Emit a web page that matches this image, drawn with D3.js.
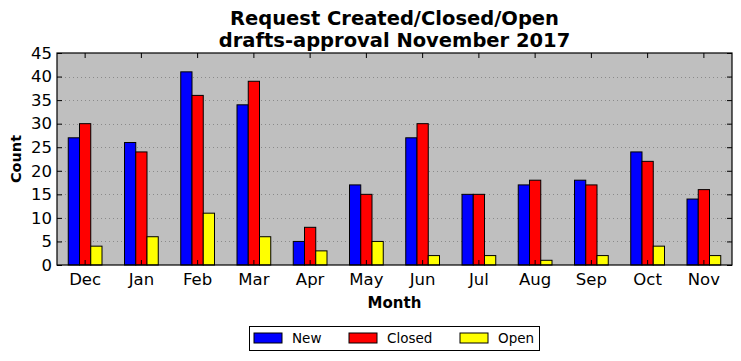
<!DOCTYPE html>
<html><head><meta charset="utf-8">
<script src="https://cdn.jsdelivr.net/npm/d3@7"></script>
<style>body{margin:0;background:#fff;} text{font-family:"DejaVu Sans",sans-serif;}</style>
</head><body><svg id="c" width="741" height="361"></svg>
<script>
const months = ["Dec","Jan","Feb","Mar","Apr","May","Jun","Jul","Aug","Sep","Oct","Nov"];
const newVals = [27,26,41,34,5,17,27,15,17,18,24,14];
const closedVals = [30,24,36,39,8,15,30,15,18,17,22,16];
const openVals = [4,6,11,6,3,5,2,2,1,2,4,2];
const seriesNames = ["New","Closed","Open"];
const seriesColors = ["#0000ff","#ff0000","#ffff00"];
const yTicks = [0,5,10,15,20,25,30,35,40,45];

const series = [newVals, closedVals, openVals];
const svg = d3.select("#c");
const L=57, R=732, T=53, B=265;
const x = d3.scaleBand().domain(months).range([L,R]).paddingInner(0).paddingOuter(0);
const y = d3.scaleLinear().domain([0,45]).range([B,T]);
const bw = x.bandwidth()*0.2;

svg.append("rect").attr("x",L).attr("y",T).attr("width",R-L).attr("height",B-T).attr("fill","#bfbfbf");
// grid
svg.append("g").selectAll("line").data(yTicks.slice(1,-1)).join("line")
  .attr("x1",L).attr("x2",R).attr("y1",d=>Math.round(y(d))+0.5).attr("y2",d=>Math.round(y(d))+0.5)
  .attr("stroke","#8a8a8a").attr("stroke-width",1).attr("stroke-dasharray","1,3");
// bars
series.forEach((vals,si)=>{
  svg.append("g").selectAll("rect").data(vals).join("rect")
    .attr("x",(d,i)=>x(months[i])+x.bandwidth()/2+(si-1.5)*bw)
    .attr("y",d=>y(d)).attr("width",bw).attr("height",d=>B-y(d))
    .attr("fill",seriesColors[si]).attr("stroke","#000").attr("stroke-width",1);
});
// frame
svg.append("rect").attr("x",L).attr("y",T).attr("width",R-L).attr("height",B-T).attr("fill","none").attr("stroke","#000").attr("stroke-width",1.2);
// axes
const xAx = svg.append("g").attr("transform",`translate(0,${B})`).call(d3.axisBottom(x).tickSize(-5).tickPadding(8));
const xTop = svg.append("g").attr("transform",`translate(0,${T})`).call(d3.axisTop(x).tickSize(-5).tickFormat(""));
const yAx = svg.append("g").attr("transform",`translate(${L},0)`).call(d3.axisLeft(y).tickValues(yTicks).tickSize(-5).tickPadding(5));
const yR = svg.append("g").attr("transform",`translate(${R},0)`).call(d3.axisRight(y).tickValues(yTicks).tickSize(-5).tickFormat(""));
[xAx,xTop,yAx,yR].forEach(g=>{g.select(".domain").remove(); g.selectAll("line").attr("stroke","#000");});
xAx.selectAll("text").attr("font-size","16.5px").attr("fill","#000").attr("font-family","DejaVu Sans");
yAx.selectAll("text").attr("font-size","16.5px").attr("fill","#000").attr("font-family","DejaVu Sans");
// titles
svg.append("text").attr("x",(L+R)/2).attr("y",25).attr("text-anchor","middle").attr("font-weight","bold").attr("font-size","19.5px").text("Request Created/Closed/Open");
svg.append("text").attr("x",(L+R)/2).attr("y",47).attr("text-anchor","middle").attr("font-weight","bold").attr("font-size","19.5px").text("drafts-approval November 2017");
svg.append("text").attr("x",(L+R)/2).attr("y",308).attr("text-anchor","middle").attr("font-weight","bold").attr("font-size","15px").text("Month");
svg.append("text").attr("transform","translate(21,159) rotate(-90)").attr("text-anchor","middle").attr("font-weight","bold").attr("font-size","14.5px").text("Count");
// legend
const lg = svg.append("g");
lg.append("rect").attr("x",249.5).attr("y",326.5).attr("width",290).attr("height",24).attr("fill","#fff").attr("stroke","#000");
const lx = [254,349,460];
seriesNames.forEach((n,i)=>{
  lg.append("rect").attr("x",lx[i]).attr("y",333).attr("width",28).attr("height",10).attr("fill",seriesColors[i]).attr("stroke","#000");
  lg.append("text").attr("x",lx[i]+38).attr("y",343).attr("font-size","13.5px").text(n);
});
</script></body></html>
